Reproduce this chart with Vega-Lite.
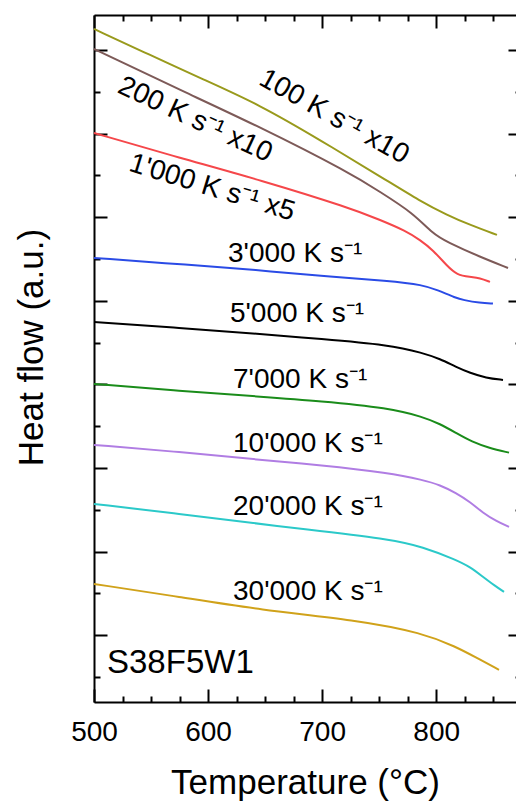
{
  "$schema": "https://vega.github.io/schema/vega-lite/v6.json",
  "width": 422,
  "height": 687,
  "autosize": "none",
  "padding": {"left": 94, "top": 15, "right": 0, "bottom": 99},
  "background": "white",
  "config": {
    "view": {"stroke": null},
    "font": "Liberation Sans",
    "axis": {"grid": false, "domainColor": "black", "tickColor": "black", "domainWidth": 2, "tickWidth": 2, "labelColor": "black", "titleColor": "black", "labelFont": "Liberation Sans", "titleFont": "Liberation Sans", "titleFontWeight": "normal"}
  },
  "datasets": {
    "curves": [
      {"series": "100 K/s x10", "T": 500, "v": 15.506},
      {"series": "100 K/s x10", "T": 549.1, "v": 14.884},
      {"series": "100 K/s x10", "T": 592.9, "v": 14.333},
      {"series": "100 K/s x10", "T": 645.6, "v": 13.687},
      {"series": "100 K/s x10", "T": 698.2, "v": 12.85},
      {"series": "100 K/s x10", "T": 756.0, "v": 11.893},
      {"series": "100 K/s x10", "T": 785.8, "v": 11.39},
      {"series": "100 K/s x10", "T": 809.5, "v": 11.055},
      {"series": "100 K/s x10", "T": 829.7, "v": 10.816},
      {"series": "100 K/s x10", "T": 853.3, "v": 10.577},
      {"series": "200 K/s x10", "T": 500, "v": 15.027},
      {"series": "200 K/s x10", "T": 518.4, "v": 14.788},
      {"series": "200 K/s x10", "T": 575.4, "v": 14.046},
      {"series": "200 K/s x10", "T": 645.6, "v": 13.161},
      {"series": "200 K/s x10", "T": 724.5, "v": 12.06},
      {"series": "200 K/s x10", "T": 750.8, "v": 11.606},
      {"series": "200 K/s x10", "T": 779.7, "v": 11.103},
      {"series": "200 K/s x10", "T": 797.2, "v": 10.601},
      {"series": "200 K/s x10", "T": 809.5, "v": 10.409},
      {"series": "200 K/s x10", "T": 838.4, "v": 10.05},
      {"series": "200 K/s x10", "T": 863.0, "v": 9.787},
      {"series": "1000 K/s x5", "T": 500, "v": 13.017},
      {"series": "1000 K/s x5", "T": 575.4, "v": 12.419},
      {"series": "1000 K/s x5", "T": 645.6, "v": 11.893},
      {"series": "1000 K/s x5", "T": 724.5, "v": 11.223},
      {"series": "1000 K/s x5", "T": 750.8, "v": 10.936},
      {"series": "1000 K/s x5", "T": 773.6, "v": 10.672},
      {"series": "1000 K/s x5", "T": 785.8, "v": 10.457},
      {"series": "1000 K/s x5", "T": 797.2, "v": 10.218},
      {"series": "1000 K/s x5", "T": 809.5, "v": 9.835},
      {"series": "1000 K/s x5", "T": 818.3, "v": 9.619},
      {"series": "1000 K/s x5", "T": 829.7, "v": 9.572},
      {"series": "1000 K/s x5", "T": 838.4, "v": 9.548},
      {"series": "1000 K/s x5", "T": 847.2, "v": 9.452},
      {"series": "3000 K/s", "T": 500, "v": 10.026},
      {"series": "3000 K/s", "T": 584.2, "v": 9.859},
      {"series": "3000 K/s", "T": 642.0, "v": 9.739},
      {"series": "3000 K/s", "T": 698.2, "v": 9.596},
      {"series": "3000 K/s", "T": 759.5, "v": 9.476},
      {"series": "3000 K/s", "T": 788.5, "v": 9.38},
      {"series": "3000 K/s", "T": 800.7, "v": 9.261},
      {"series": "3000 K/s", "T": 817.4, "v": 9.069},
      {"series": "3000 K/s", "T": 823.5, "v": 9.021},
      {"series": "3000 K/s", "T": 838.4, "v": 8.949},
      {"series": "3000 K/s", "T": 849.8, "v": 8.937},
      {"series": "5000 K/s", "T": 500, "v": 8.495},
      {"series": "5000 K/s", "T": 575.4, "v": 8.351},
      {"series": "5000 K/s", "T": 645.6, "v": 8.208},
      {"series": "5000 K/s", "T": 698.2, "v": 8.088},
      {"series": "5000 K/s", "T": 758.7, "v": 7.944},
      {"series": "5000 K/s", "T": 788.5, "v": 7.753},
      {"series": "5000 K/s", "T": 803.4, "v": 7.609},
      {"series": "5000 K/s", "T": 817.4, "v": 7.418},
      {"series": "5000 K/s", "T": 829.7, "v": 7.274},
      {"series": "5000 K/s", "T": 843.7, "v": 7.155},
      {"series": "5000 K/s", "T": 858.6, "v": 7.107},
      {"series": "7000 K/s", "T": 500, "v": 7.011},
      {"series": "7000 K/s", "T": 575.4, "v": 6.844},
      {"series": "7000 K/s", "T": 645.6, "v": 6.707},
      {"series": "7000 K/s", "T": 698.2, "v": 6.604},
      {"series": "7000 K/s", "T": 758.7, "v": 6.437},
      {"series": "7000 K/s", "T": 788.5, "v": 6.222},
      {"series": "7000 K/s", "T": 803.4, "v": 6.054},
      {"series": "7000 K/s", "T": 817.4, "v": 5.839},
      {"series": "7000 K/s", "T": 831.5, "v": 5.623},
      {"series": "7000 K/s", "T": 846.3, "v": 5.48},
      {"series": "7000 K/s", "T": 863.9, "v": 5.367},
      {"series": "10000 K/s", "T": 500, "v": 5.552},
      {"series": "10000 K/s", "T": 575.4, "v": 5.384},
      {"series": "10000 K/s", "T": 645.6, "v": 5.193},
      {"series": "10000 K/s", "T": 698.2, "v": 5.073},
      {"series": "10000 K/s", "T": 758.7, "v": 4.882},
      {"series": "10000 K/s", "T": 788.5, "v": 4.714},
      {"series": "10000 K/s", "T": 803.4, "v": 4.594},
      {"series": "10000 K/s", "T": 817.4, "v": 4.403},
      {"series": "10000 K/s", "T": 829.7, "v": 4.188},
      {"series": "10000 K/s", "T": 841.1, "v": 3.924},
      {"series": "10000 K/s", "T": 852.5, "v": 3.733},
      {"series": "10000 K/s", "T": 863.9, "v": 3.589},
      {"series": "20000 K/s", "T": 500, "v": 4.14},
      {"series": "20000 K/s", "T": 575.4, "v": 3.9},
      {"series": "20000 K/s", "T": 645.6, "v": 3.661},
      {"series": "20000 K/s", "T": 679.8, "v": 3.553},
      {"series": "20000 K/s", "T": 758.7, "v": 3.302},
      {"series": "20000 K/s", "T": 788.5, "v": 3.111},
      {"series": "20000 K/s", "T": 817.4, "v": 2.8},
      {"series": "20000 K/s", "T": 829.7, "v": 2.632},
      {"series": "20000 K/s", "T": 841.1, "v": 2.393},
      {"series": "20000 K/s", "T": 851.6, "v": 2.178},
      {"series": "20000 K/s", "T": 859.5, "v": 2.034},
      {"series": "30000 K/s", "T": 500, "v": 2.225},
      {"series": "30000 K/s", "T": 575.4, "v": 1.914},
      {"series": "30000 K/s", "T": 645.6, "v": 1.603},
      {"series": "30000 K/s", "T": 729.7, "v": 1.364},
      {"series": "30000 K/s", "T": 788.5, "v": 1.053},
      {"series": "30000 K/s", "T": 817.4, "v": 0.718},
      {"series": "30000 K/s", "T": 834.1, "v": 0.479},
      {"series": "30000 K/s", "T": 855.1, "v": 0.168}
    ],
    "hlabels": [
      {"label": "3'000 K s⁻¹", "T": 617.5, "v": 9.93},
      {"label": "5'000 K s⁻¹", "T": 619.2, "v": 8.5},
      {"label": "7'000 K s⁻¹", "T": 621.9, "v": 6.916},
      {"label": "10'000 K s⁻¹", "T": 621.9, "v": 5.391},
      {"label": "20'000 K s⁻¹", "T": 621.9, "v": 3.877},
      {"label": "30'000 K s⁻¹", "T": 621.9, "v": 1.843}
    ]
  },
  "resolve": {"axis": {"x": "independent", "y": "independent"}},
  "layer": [
    {
      "data": {"name": "curves"},
      "mark": {"type": "line", "strokeWidth": 2, "interpolate": "basis"},
      "encoding": {
        "x": {"field": "T", "type": "quantitative", "scale": {"domain": [500, 870], "nice": false, "zero": false},
          "axis": {"orient": "bottom", "values": [500, 600, 700, 800], "ticks": false, "domain": true, "labelFontSize": 28, "labelBaseline": "alphabetic", "labelPadding": 38, "labelFlush": false, "title": "Temperature (°C)", "titleFontSize": 35, "titleBaseline": "alphabetic", "titleY": 91}},
        "y": {"field": "v", "type": "quantitative", "scale": {"domain": [-0.6, 15.84], "nice": false, "zero": false},
          "axis": {"orient": "left", "ticks": false, "labels": false, "domain": true, "title": "Heat flow (a.u.)", "titleFontSize": 35, "titleBaseline": "alphabetic", "titleAngle": -90, "titleX": -52, "titleY": 332}},
        "color": {"field": "series", "type": "nominal", "legend": null,
          "scale": {"domain": ["100 K/s x10", "200 K/s x10", "1000 K/s x5", "3000 K/s", "5000 K/s", "7000 K/s", "10000 K/s", "20000 K/s", "30000 K/s"],
            "range": ["#999a1c", "#7d5a58", "#f5474a", "#2a4be6", "#000000", "#1a8c1a", "#b07de3", "#2bc9c9", "#d0a21a"]}},
        "detail": {"field": "series"}
      }
    },
    {
      "data": {"name": "curves"},
      "mark": {"type": "point", "opacity": 0},
      "encoding": {
        "x": {"field": "T", "type": "quantitative", "axis": {"orient": "bottom", "values": [500, 600, 700, 800], "tickSize": -13, "labels": false, "domain": false, "title": null}},
        "y": {"field": "v", "type": "quantitative", "axis": {"orient": "left", "values": [1, 3, 5, 7, 9, 11, 13, 15], "tickSize": -13, "labels": false, "domain": false, "title": null}}
      }
    },
    {
      "data": {"name": "curves"},
      "mark": {"type": "point", "opacity": 0},
      "encoding": {
        "x": {"field": "T", "type": "quantitative", "axis": {"orient": "bottom", "values": [525, 550, 575, 625, 650, 675, 725, 750, 775, 825, 850], "tickSize": -6, "labels": false, "domain": false, "title": null}},
        "y": {"field": "v", "type": "quantitative", "axis": {"orient": "left", "values": [0, 2, 4, 6, 8, 10, 12, 14], "tickSize": -6, "labels": false, "domain": false, "title": null}}
      }
    },
    {
      "data": {"name": "curves"},
      "mark": {"type": "point", "opacity": 0},
      "encoding": {
        "x": {"field": "T", "type": "quantitative", "axis": {"orient": "top", "values": [500, 600, 700, 800], "tickSize": -13, "labels": false, "domain": true, "title": null}},
        "y": {"field": "v", "type": "quantitative", "axis": {"orient": "right", "offset": 5, "values": [1, 3, 5, 7, 9, 11, 13, 15], "tickSize": -13, "labels": false, "domain": false, "title": null}}
      }
    },
    {
      "data": {"name": "curves"},
      "mark": {"type": "point", "opacity": 0},
      "encoding": {
        "x": {"field": "T", "type": "quantitative", "axis": {"orient": "top", "values": [525, 550, 575, 625, 650, 675, 725, 750, 775, 825, 850], "tickSize": -6, "labels": false, "domain": false, "title": null}},
        "y": {"field": "v", "type": "quantitative", "axis": {"orient": "right", "offset": 5, "values": [0, 2, 4, 6, 8, 10, 12, 14], "tickSize": -6, "labels": false, "domain": false, "title": null}}
      }
    },
    {
      "data": {"name": "hlabels"},
      "mark": {"type": "text", "fontSize": 28, "align": "left", "baseline": "alphabetic", "color": "black", "font": "Liberation Sans"},
      "encoding": {
        "x": {"field": "T", "type": "quantitative", "axis": null},
        "y": {"field": "v", "type": "quantitative", "axis": null},
        "text": {"field": "label"}
      }
    },
    {
      "data": {"values": [{"label": "100 K s⁻¹ x10", "T": 710.4, "v": 13.4}]},
      "mark": {"type": "text", "fontSize": 28, "align": "center", "baseline": "middle", "angle": 29, "color": "black", "font": "Liberation Sans"},
      "encoding": {
        "x": {"field": "T", "type": "quantitative", "axis": null},
        "y": {"field": "v", "type": "quantitative", "axis": null},
        "text": {"field": "label"}
      }
    },
    {
      "data": {"values": [{"label": "200 K s⁻¹ x10", "T": 588.6, "v": 13.33}]},
      "mark": {"type": "text", "fontSize": 28, "align": "center", "baseline": "middle", "angle": 25, "color": "black", "font": "Liberation Sans"},
      "encoding": {
        "x": {"field": "T", "type": "quantitative", "axis": null},
        "y": {"field": "v", "type": "quantitative", "axis": null},
        "text": {"field": "label"}
      }
    },
    {
      "data": {"values": [{"label": "1'000 K s⁻¹ x5", "T": 603.5, "v": 11.7}]},
      "mark": {"type": "text", "fontSize": 28, "align": "center", "baseline": "middle", "angle": 17, "color": "black", "font": "Liberation Sans"},
      "encoding": {
        "x": {"field": "T", "type": "quantitative", "axis": null},
        "y": {"field": "v", "type": "quantitative", "axis": null},
        "text": {"field": "label"}
      }
    },
    {
      "data": {"values": [{"label": "S38F5W1", "T": 511.4, "v": 0.096}]},
      "mark": {"type": "text", "fontSize": 33, "align": "left", "baseline": "alphabetic", "color": "black", "font": "Liberation Sans"},
      "encoding": {
        "x": {"field": "T", "type": "quantitative", "axis": null},
        "y": {"field": "v", "type": "quantitative", "axis": null},
        "text": {"field": "label"}
      }
    }
  ]
}
